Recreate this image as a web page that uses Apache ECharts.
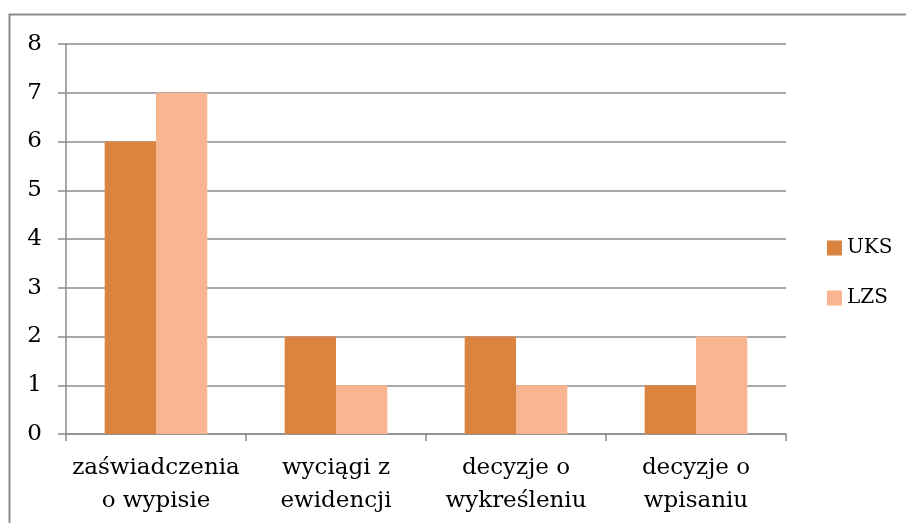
<!DOCTYPE html>
<html>
<head>
<meta charset="utf-8">
<script src="https://cdn.jsdelivr.net/npm/echarts@6/dist/echarts.min.js"></script>
<style>
  html, body { margin: 0; padding: 0; background: #fff; }
  #chart { width: 906px; height: 523px; }
</style>
</head>
<body>
<div id="chart"></div>
<script>
// dane wykresu
var categories = ['zaświadczenia\no wypisie', 'wyciągi z\newidencji', 'decyzje o\nwykreśleniu', 'decyzje o\nwpisaniu'];
var uks = [6, 2, 2, 1];
var lzs = [7, 1, 1, 2];
var seriesNames = ['UKS', 'LZS'];

var font = 'DejaVu Serif';
var chart = echarts.init(document.getElementById('chart'), null, { renderer: 'canvas' });

var option = {
  animation: false,
  backgroundColor: '#fff',
  graphic: [
    {
      type: 'rect',
      shape: { x: 9.5, y: 14.5, width: 1000, height: 1000 },
      style: { fill: 'none', stroke: '#8c8c8c', lineWidth: 2 },
      silent: true
    }
  ],
  grid: { left: 66, right: 120, top: 44, bottom: 89 },
  legend: {
    orient: 'vertical',
    left: 827,
    top: 238,
    padding: 0,
    itemWidth: 15,
    itemHeight: 15,
    itemGap: 30,
    icon: 'rect',
    data: seriesNames,
    textStyle: { fontFamily: font, fontSize: 20, color: '#000' }
  },
  xAxis: {
    type: 'category',
    data: categories,
    axisLine: { lineStyle: { color: '#8c8c8c', width: 1.5 } },
    axisTick: { show: true, length: 7, alignWithLabel: false, lineStyle: { color: '#8c8c8c', width: 1.5 } },
    axisLabel: {
      interval: 0,
      margin: 18,
      fontFamily: font,
      fontSize: 23,
      lineHeight: 33,
      color: '#000'
    }
  },
  yAxis: {
    type: 'value',
    min: 0,
    max: 8,
    interval: 1,
    axisLine: { show: true, lineStyle: { color: '#8c8c8c', width: 1.5 } },
    axisTick: { show: true, length: 8, lineStyle: { color: '#8c8c8c', width: 1.5 } },
    splitLine: { lineStyle: { color: '#8c8c8c', width: 1.5 } },
    axisLabel: { margin: 24, fontFamily: font, fontSize: 23, color: '#000' }
  },
  series: [
    {
      name: seriesNames[0],
      type: 'bar',
      data: uks,
      barGap: '0%',
      barCategoryGap: '43%',
      itemStyle: { color: '#db8440' }
    },
    {
      name: seriesNames[1],
      type: 'bar',
      data: lzs,
      barGap: '0%',
      barCategoryGap: '43%',
      itemStyle: { color: '#f8b590' }
    }
  ]
};

chart.setOption(option);
</script>
</body>
</html>
